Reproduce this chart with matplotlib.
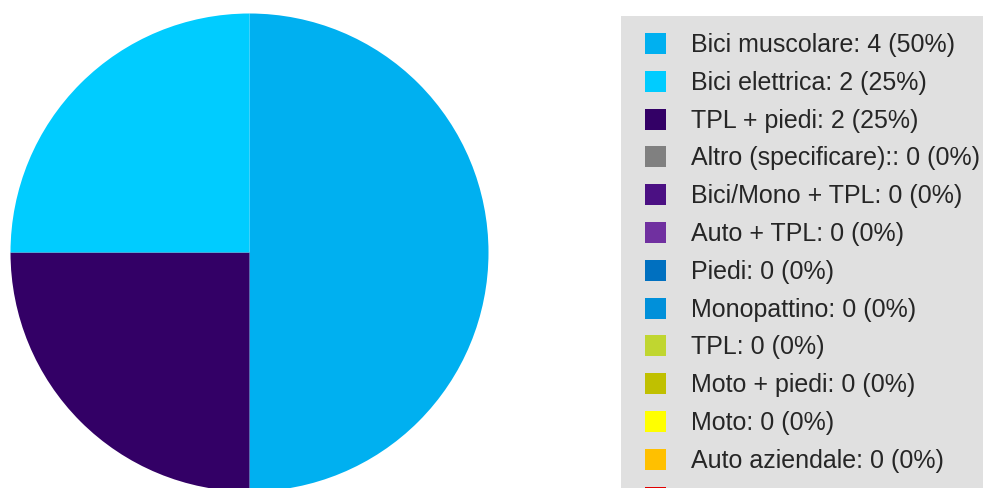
import matplotlib.pyplot as plt
from matplotlib.patches import Rectangle

# Legend order (as in the reference)
categories = ['Bici muscolare', 'Bici elettrica', 'TPL + piedi', 'Altro (specificare):',
              'Bici/Mono + TPL', 'Auto + TPL', 'Piedi', 'Monopattino', 'TPL',
              'Moto + piedi', 'Moto', 'Auto aziendale', 'Auto']
counts = [4, 2, 2, 0, 0, 0, 0, 0, 0, 0, 0, 0, 0]
colors = ['#00b0f0', '#00ccff', '#330066', '#808080', '#4b1083', '#7030a0',
          '#0070c0', '#0090da', '#c0d630', '#c0c000', '#ffff00', '#ffc000', '#e00000']

# slices go clockwise from 12 o'clock in this order
pie_order = ['Bici muscolare', 'TPL + piedi', 'Bici elettrica']

W, H = 983, 488
fig = plt.figure(figsize=(W / 100, H / 100), dpi=100)
plt.rcParams['font.family'] = ['Liberation Sans', 'DejaVu Sans']

# pie: centre (249.5, 252.5) px from top-left, radius 239 px
cx, cy, r = 249.5, 252.5, 239
ax = fig.add_axes([(cx - r) / W, (H - cy - r) / H, 2 * r / W, 2 * r / H])
idx = [categories.index(c) for c in pie_order]
ax.pie([counts[i] for i in idx], colors=[colors[i] for i in idx],
       startangle=90, counterclock=False,
       wedgeprops=dict(linewidth=0, antialiased=True))
ax.set_xlim(-1, 1)
ax.set_ylim(-1, 1)
ax.set_aspect('equal')
ax.axis('off')

# legend panel
total = sum(counts)
fig.patches.append(Rectangle((621 / W, 0), (W - 621) / W + 0.01, (H - 15.5) / H,
                             transform=fig.transFigure, facecolor='#e0e0e0',
                             edgecolor='none', zorder=0))
row0, step, sq = 33, 37.8, 21
for k, (name, n, col) in enumerate(zip(categories, counts, colors)):
    top = row0 + k * step
    fig.patches.append(Rectangle((645 / W, (H - top - sq) / H), sq / W, sq / H,
                                 transform=fig.transFigure, facecolor=col,
                                 edgecolor='none', zorder=1))
    if top + sq > H:
        continue  # row runs off the bottom edge, only its swatch peeks in
    pct = round(100 * n / total)
    fig.text(691 / W, (H - top - sq / 2 - 1.5) / H, f'{name}: {n} ({pct}%)',
             fontsize=18, color='#262626', va='center', ha='left', zorder=2)

fig.savefig('out.png', dpi=100, facecolor='white')
